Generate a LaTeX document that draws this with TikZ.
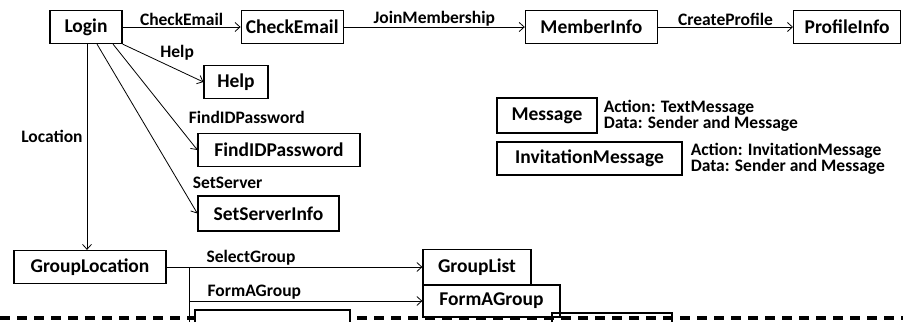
\documentclass[tikz,border=0pt]{standalone}
\usepackage{fontspec}
\setmainfont{Carlito}
\usepackage{tikz}
\usetikzlibrary{positioning, arrows.meta}

\begin{document}
\begin{tikzpicture}[
  x=1pt, y=-1pt,
  font=\bfseries\fontsize{19.5}{21}\selectfont,
  box/.style={draw, line width=1.2pt, minimum height=33pt, inner sep=2pt, fill=white},
  lbl/.style={font=\bfseries\fontsize{17.5}{19}\selectfont, inner sep=1pt},
  note/.style={font=\bfseries\fontsize{17.5}{15}\selectfont, align=left, inner sep=0pt},
  arrow/.style={-{Straight Barb[length=5pt,width=9pt]}, line width=0.8pt},
  cutline/.style={line width=3.2pt, dash pattern=on 10pt off 7pt},
]
  \useasboundingbox (0,0) rectangle (903,322);

  % page break at the bottom
  \coordinate (cutleft)  at (0,318);
  \coordinate (cutright) at (903,318);
  \draw[cutline] (cutleft) -- (cutright);

  \node[box, minimum width=72pt]  (login) at (86,27) {Login};
  \node[box, minimum width=102pt, right=118pt of login]      (checkemail)  {CheckEmail};
  \node[box, minimum width=132pt, right=181pt of checkemail] (memberinfo)  {MemberInfo};
  \node[box, minimum width=107pt, right=135pt of memberinfo] (profileinfo) {ProfileInfo};

  \node[box, minimum width=64pt]  (help)      at (236,82)    {Help};
  \node[box, minimum width=162pt] (findid)    at (279,150)   {FindIDPassword};
  \node[box, minimum width=141pt, minimum height=35pt] (setserver) at (268.5,213.5) {SetServerInfo};

  \node[box, minimum width=100pt, minimum height=35pt] (message)    at (547,115.5) {Message};
  \node[box, minimum width=185pt]                      (invitation) at (589.5,158.5) {InvitationMessage};
  \node[note, right=6pt of message]    (messageinfo)    {Action: TextMessage\\Data: Sender and Message};
  \node[note, right=8pt of invitation] (invitationinfo) {Action: InvitationMessage\\Data: Sender and Message};

  \node[box, minimum width=152pt] (grouploc)  at (90,267)  {GroupLocation};
  \node[box, minimum width=108pt, minimum height=35pt] (grouplist)  at (477,267)   {GroupList};
  \node[box, minimum width=137pt, minimum height=32pt] (formagroup) at (491.5,301) {FormAGroup};

  % boxes cut off by the page break
  \fill[white] (195,310) rectangle (350,322);
  \draw[line width=1.2pt] (195,322) |- (350,310) -- (350,322);
  \draw[line width=1.2pt] (552,322) |- (672,313) -- (672,322);

  \draw[arrow] (login) -- node[lbl, above] (lblcheck) {CheckEmail} (checkemail);
  \draw[arrow] (checkemail) -- node[lbl, above, inner sep=0pt] (lbljoin) {JoinMembership} (memberinfo);
  \draw[arrow] (memberinfo) -- node[lbl, above] (lblprofile) {CreateProfile} (profileinfo);

  \draw[arrow] (login.south east) -- node[lbl, pos=0.45, anchor=south west] (lblhelp) {Help} (help.west);
  \draw[arrow] ([xshift=27pt]login.south) -- node[lbl, pos=1, anchor=south west, xshift=-10pt, yshift=25pt] (lblfind) {FindIDPassword} (findid.west);
  \draw[arrow] ([xshift=11pt]login.south) -- node[lbl, pos=1, anchor=south west, xshift=-6pt, yshift=23pt] (lblset) {SetServer} (setserver.west);
  \draw[arrow] ([xshift=1pt]login.south) -- node[lbl, left, pos=0.45, inner sep=4pt] (lbllocation) {Location} ([xshift=1pt]login.south |- grouploc.north);

  \coordinate (branch)     at (189,267);
  \coordinate (branchend)  at (189,322);
  \coordinate (formbranch) at (branch |- formagroup.west);
  \draw[arrow] (grouploc) -- node[lbl, above, pos=0.33] (lblselect) {SelectGroup} (grouplist);
  \draw[line width=0.8pt] (branch) -- (branchend);
  \draw[arrow] (formbranch) -- node[lbl, above, pos=0.28] (lblform) {FormAGroup} (formagroup.west);
\end{tikzpicture}
\end{document}
